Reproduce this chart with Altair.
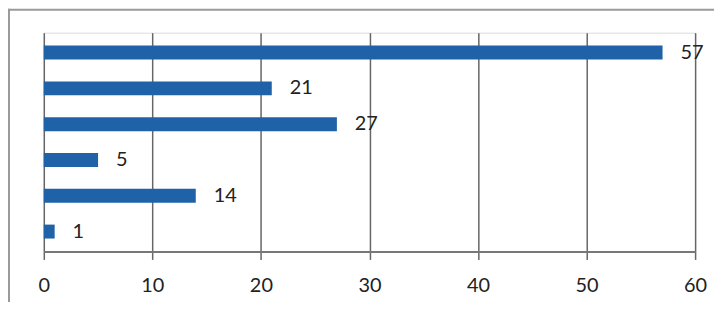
import altair as alt
import pandas as pd

categories = ["c1", "c2", "c3", "c4", "c5", "c6"]
values = [57, 21, 27, 5, 14, 1]
ticks = [0, 10, 20, 30, 40, 50, 60]

df = pd.DataFrame({"cat": categories, "value": values})

base = alt.Chart(df)

y_enc = alt.Y("cat:N", sort=None, axis=None,
              scale=alt.Scale(paddingInner=0.611, paddingOuter=0.361))

bars = base.mark_bar(color="#1f62a8").encode(
    x=alt.X("value:Q", scale=alt.Scale(domain=[0, 60], nice=False),
            axis=alt.Axis(values=ticks, grid=True, gridColor="#666666", gridWidth=1.5,
                          domainColor="#777777", domainWidth=2,
                          tickColor="#666666", tickSize=8, tickWidth=1.5,
                          labelFontSize=20, labelFont="Lato", labelColor="#222222",
                          labelPadding=16, labelFlush=False, title=None)),
    y=y_enc,
)

labels = base.mark_text(align="left", baseline="middle", dx=18, fontSize=20,
                        font="Lato", color="#222222").encode(
    x="value:Q", y=y_enc, text="value:Q")

frame_data = alt.Data(values=[{"a": 1}])
top_line = alt.Chart(frame_data).mark_rule(color="#9a9a9a", strokeWidth=2).encode(
    x=alt.value(-36), x2=alt.value(674), y=alt.value(-23))
left_line = alt.Chart(frame_data).mark_rule(color="#9a9a9a", strokeWidth=2).encode(
    x=alt.value(-35), y=alt.value(-24), y2=alt.value(300))

chart = alt.layer(top_line, left_line, bars, labels).properties(
    width=655, height=220,
    autosize=alt.AutoSizeParams(type="none"),
    padding={"left": 36, "top": 24, "right": 20, "bottom": 50},
).configure_view(stroke=None).configure(background="white")

chart.save("out.html", embed_options={"renderer": "svg", "actions": False})
